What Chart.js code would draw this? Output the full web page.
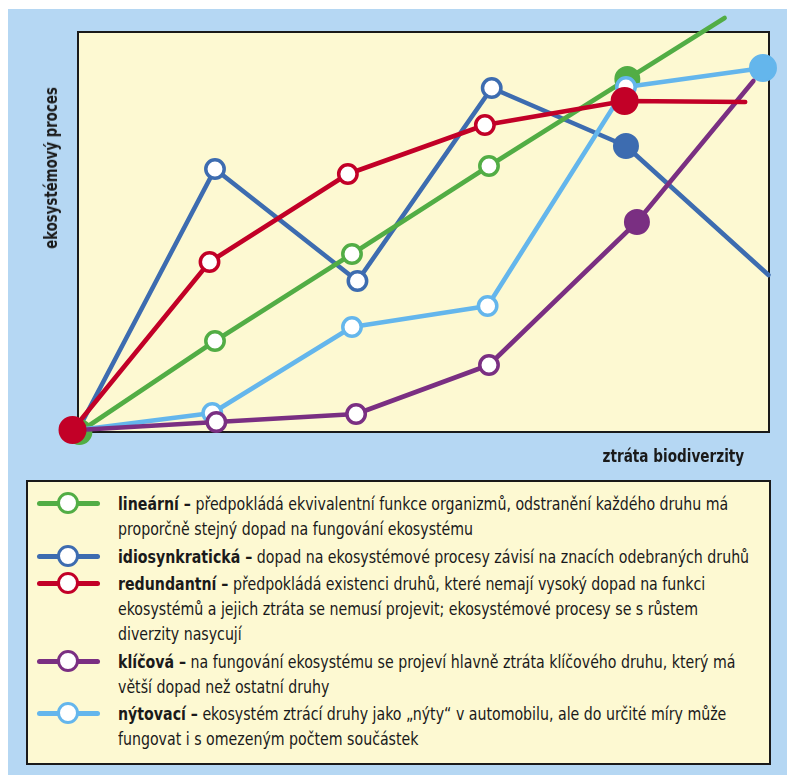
<!DOCTYPE html>
<html lang="cs">
<head>
  <meta charset="UTF-8">
  <title>Ztráta biodiverzity a ekosystémové procesy</title>
  <script src="https://cdn.jsdelivr.net/npm/chart.js"></script>
  <style>
    body {
      margin: 0;
      background: #ffffff;
      font-family: "Liberation Sans Narrow", "DejaVu Sans Condensed", sans-serif;
      color: #1a1a1a;
    }

    .pozadi {
      position: absolute;
      left: 8px;
      top: 9px;
      width: 779px;
      height: 766px;
      background: #b5d7f3;
    }

    #graf {
      position: absolute;
      left: 0;
      top: 0;
    }

    .osa {
      position: absolute;
      font-weight: bold;
      font-size: 17px;
      white-space: nowrap;
    }

    .osa-y {
      left: 51px;
      top: 168px;
      transform: translate(-50%, -50%) rotate(-90deg) scaleX(0.87);
    }

    .osa-x {
      right: 43px;
      top: 446px;
      transform: scaleX(0.89);
      transform-origin: right center;
    }

    .legenda {
      position: absolute;
      left: 26px;
      top: 480px;
      width: 741px;
      height: 281px;
      background: #fdf9d2;
      border: 2px solid #1a1a1a;
      box-sizing: content-box;
      overflow: hidden;
    }

    .polozka {
      position: relative;
      padding-left: 90px;
      font-size: 18px;
      line-height: 25px;
      margin-bottom: 2.5px;
    }

    .polozka:first-child {
      margin-top: 9px;
    }

    /* text je v predloze uzsim pismem, proto stlaceni do sirky */
    .text {
      display: block;
      white-space: nowrap;
      transform: scaleX(0.875);
      transform-origin: left top;
    }

    /* znacka: cara s prazdnym koleckem */
    .znacka {
      position: absolute;
      left: 9px;
      top: 10px;
      width: 63px;
      height: 5px;
      border-radius: 3px;
    }

    .znacka::after {
      content: "";
      position: absolute;
      left: 20px;
      top: -9px;
      width: 16px;
      height: 16px;
      border-radius: 50%;
      background: #ffffff;
      border: 3.5px solid currentColor;
    }
  </style>
</head>
<body>
  <div class="pozadi"></div>
  <canvas id="graf" width="787" height="475"></canvas>
  <div class="osa osa-y">ekosystémový proces</div>
  <div class="osa osa-x">ztráta biodiverzity</div>

  <div class="legenda" id="legenda"></div>

  <script>
    // hodnoty (x = krok ztraty druhu, y = uroven procesu)
    const xLinearni = [0.01, 1, 2, 3, 4.01, 4.72];
    const yLinearni = [0, 91, 178, 266, 353, 414];

    const xIdiosynkraticka = [0, 1, 2.04, 3.02, 4, 5.04];
    const yIdiosynkraticka = [2, 263, 151, 344, 286, 157];

    const xRedundantni = [-0.04, 0.96, 1.97, 2.97, 3.99, 4.87];
    const yRedundantni = [2, 170, 258, 307, 331, 330];

    const xKlicova = [0, 1.01, 2.03, 3, 4.08, 4.93];
    const yKlicova = [2, 10, 18, 67, 210, 351];

    const xNytovaci = [0, 0.98, 2, 2.99, 4, 5];
    const yNytovaci = [2, 19, 105, 126, 345, 364];

    const nazvy = ['lineární', 'idiosynkratická', 'redundantní', 'klíčová', 'nýtovací'];
    // radky popisu zalomene stejne jako v predloze
    const popisy = [
      ['předpokládá ekvivalentní funkce organizmů, odstranění každého druhu má',
       'proporčně stejný dopad na fungování ekosystému'],
      ['dopad na ekosystémové procesy závisí na znacích odebraných druhů'],
      ['předpokládá existenci druhů, které nemají vysoký dopad na funkci',
       'ekosystémů a jejich ztráta se nemusí projevit; ekosystémové procesy se s růstem',
       'diverzity nasycují'],
      ['na fungování ekosystému se projeví hlavně ztráta klíčového druhu, který má',
       'větší dopad než ostatní druhy'],
      ['ekosystém ztrácí druhy jako „nýty“ v automobilu, ale do určité míry může',
       'fungovat i s omezeným počtem součástek']
    ];

    const barvy = {
      zelena: '#52ad45',
      modra: '#3d6cb0',
      cervena: '#c20027',
      fialova: '#7a2f82',
      svetla: '#64b6ec',
      zluta: '#fdf9d2',
      ramecek: '#1a1a1a'
    };

    function body(xs, ys) {
      return xs.map((x, i) => ({ x: x, y: ys[i] }));
    }

    // o = prazdne kolecko, f = plne, - = bez znacky
    function znacky(vzor, barva, velke) {
      const r = [], bg = [], bw = [];
      for (const c of vzor) {
        if (c === 'o') { r.push(9.2); bg.push('#ffffff'); bw.push(3.5); }
        else if (c === 'f') { r.push(velke ? 13 : 12); bg.push(barva); bw.push(2); }
        else { r.push(0); bg.push(barva); bw.push(0); }
      }
      return {
        pointRadius: r,
        pointHoverRadius: r,
        pointBackgroundColor: bg,
        pointBorderColor: barva,
        pointBorderWidth: bw
      };
    }

    function rada(label, data, barva, vzor, poradi, velke) {
      return Object.assign({
        label: label,
        data: data,
        borderColor: barva,
        borderWidth: 4.6,
        borderCapStyle: 'round',
        borderJoinStyle: 'round',
        tension: 0,
        fill: false,
        clip: false,
        order: poradi
      }, znacky(vzor, barva, velke));
    }

    const plochaGrafu = {
      id: 'plochaGrafu',
      beforeDraw(chart) {
        const a = chart.chartArea;
        const ctx = chart.ctx;
        ctx.save();
        ctx.fillStyle = barvy.zluta;
        ctx.fillRect(a.left, a.top, a.right - a.left, a.bottom - a.top);
        ctx.restore();
      },
      beforeDatasetsDraw(chart) {
        const a = chart.chartArea;
        const ctx = chart.ctx;
        ctx.save();
        ctx.strokeStyle = barvy.ramecek;
        ctx.lineWidth = 2;
        ctx.strokeRect(a.left, a.top, a.right - a.left, a.bottom - a.top);
        ctx.restore();
      }
    };

    new Chart(document.getElementById('graf'), {
      type: 'line',
      data: {
        datasets: [
          rada(nazvy[2], body(xRedundantni, yRedundantni), barvy.cervena, 'fooof-', 1, true),
          rada(nazvy[3], body(xKlicova, yKlicova), barvy.fialova, '-ooof-', 2),
          rada(nazvy[4], body(xNytovaci, yNytovaci), barvy.svetla, '-oooof', 3, true),
          rada(nazvy[0], body(xLinearni, yLinearni), barvy.zelena, 'fooof-', 4),
          rada(nazvy[1], body(xIdiosynkraticka, yIdiosynkraticka), barvy.modra, '-ooof-', 5)
        ]
      },
      options: {
        responsive: false,
        animation: false,
        devicePixelRatio: 1,
        layout: { padding: { left: 78, top: 32, right: 18, bottom: 43 } },
        plugins: {
          legend: { display: false },
          tooltip: { enabled: false }
        },
        scales: {
          x: { type: 'linear', min: 0, max: 5.044, display: false },
          y: { type: 'linear', min: 0, max: 400, display: false }
        }
      },
      plugins: [plochaGrafu]
    });

    // legenda pod grafem
    const legendaBarvy = [barvy.zelena, barvy.modra, barvy.cervena, barvy.fialova, barvy.svetla];
    const legenda = document.getElementById('legenda');
    nazvy.forEach((nazev, i) => {
      const p = document.createElement('div');
      p.className = 'polozka';
      p.innerHTML = `<span class="znacka" style="background:${legendaBarvy[i]};color:${legendaBarvy[i]}"></span>` +
        `<span class="text"><b>${nazev} –</b> ${popisy[i].join('<br>')}</span>`;
      legenda.appendChild(p);
    });
  </script>
</body>
</html>
